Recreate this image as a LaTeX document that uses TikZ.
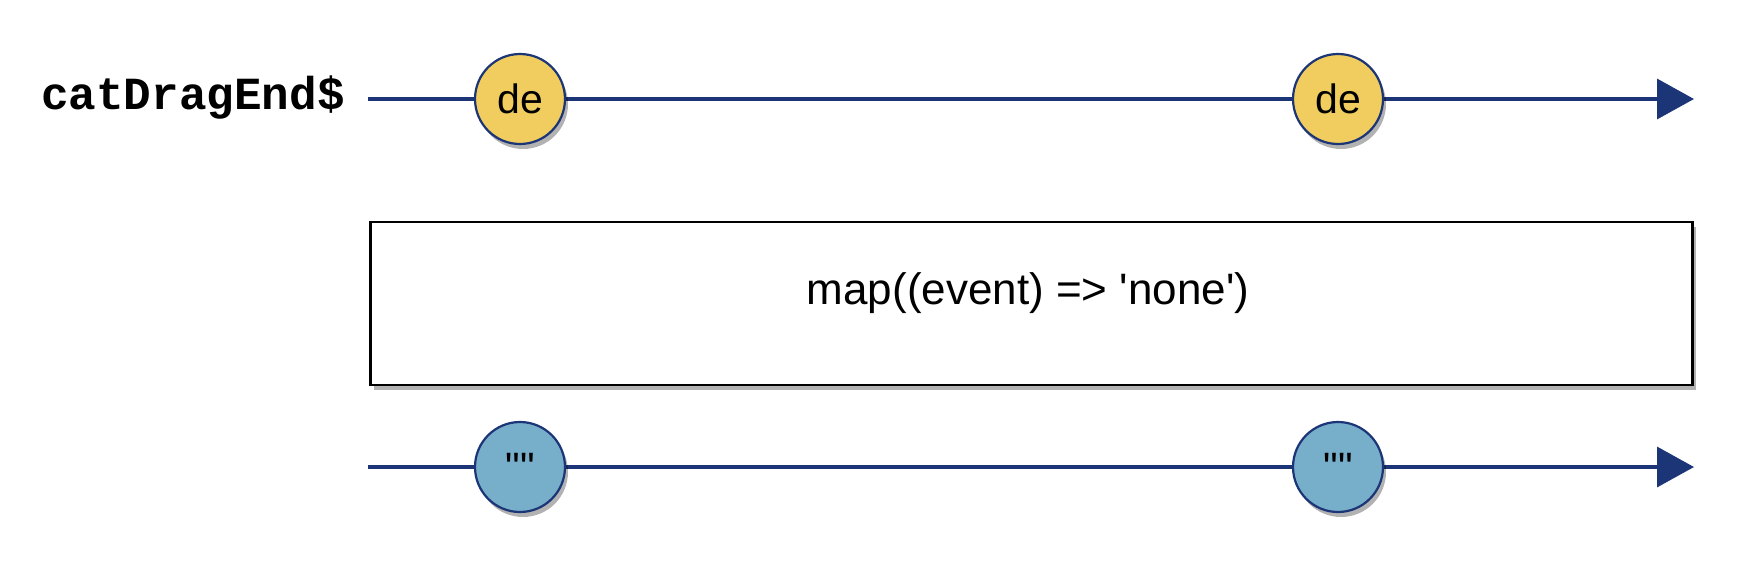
\documentclass[tikz,border=0pt]{standalone}
\usepackage{fontspec}
\setmainfont{Liberation Sans}
\newfontfamily\plainsans{Liberation Sans}
\newfontfamily\monob{Liberation Mono}
\usetikzlibrary{arrows.meta,shadows}
\definecolor{rxline}{HTML}{1B3577}
\definecolor{rxyellow}{HTML}{F0CD5E}
\definecolor{rxblue}{HTML}{77AEC9}
\tikzset{
  timeline/.style={draw=rxline, line width=3.5pt, -{Triangle[length=37pt,width=40pt]}},
  marble/.style={circle, draw=rxline, line width=2.2pt, minimum size=90pt, inner sep=0pt,
    drop shadow={shadow xshift=3pt, shadow yshift=-5pt, opacity=0.3, fill=black}},
  yellowm/.style={marble, fill=rxyellow},
  bluem/.style={marble, fill=rxblue},
  mtext/.style={font=\plainsans\fontsize{41}{43}\selectfont, anchor=base, inner sep=0pt},
  opbox/.style={draw=black, line width=2.2pt, fill=white, minimum width=1322pt, minimum height=163pt,
    inner sep=0pt, drop shadow={shadow xshift=3pt, shadow yshift=-5pt, opacity=0.3, fill=black}},
}
\begin{document}
\begin{tikzpicture}[x=1pt,y=-1pt]
\useasboundingbox (0,0) rectangle (1758,568);
% labels
\node[font=\monob\bfseries\fontsize{46}{48}\selectfont, anchor=base, inner sep=0pt] (lbl) at (193,109) {catDragEnd\$};
% top timeline
\coordinate (s1) at (368,99);
\coordinate (e1) at (1694,99);
\draw[timeline] (s1) -- (e1);
\node[yellowm] (a1) at (520,99) {};
\node[yellowm] (a2) at (1338,99) {};
\node[mtext] (ta1) at (520,113) {de};
\node[mtext] (ta2) at (1338,113) {de};
% operator box
\node[opbox] (op) at (1031.5,303.5) {};
\node[font=\plainsans\fontsize{44}{46}\selectfont, anchor=base, inner sep=0pt] (opt) at (1028,304) {map((event) => 'none')};
% bottom timeline
\coordinate (s2) at (368,467);
\coordinate (e2) at (1694,467);
\draw[timeline] (s2) -- (e2);
\node[bluem] (b1) at (520,467) {};
\node[bluem] (b2) at (1338,467) {};
\node[mtext] (tb1) at (520,481) {""};
\node[mtext] (tb2) at (1338,481) {""};
\end{tikzpicture}
\end{document}
